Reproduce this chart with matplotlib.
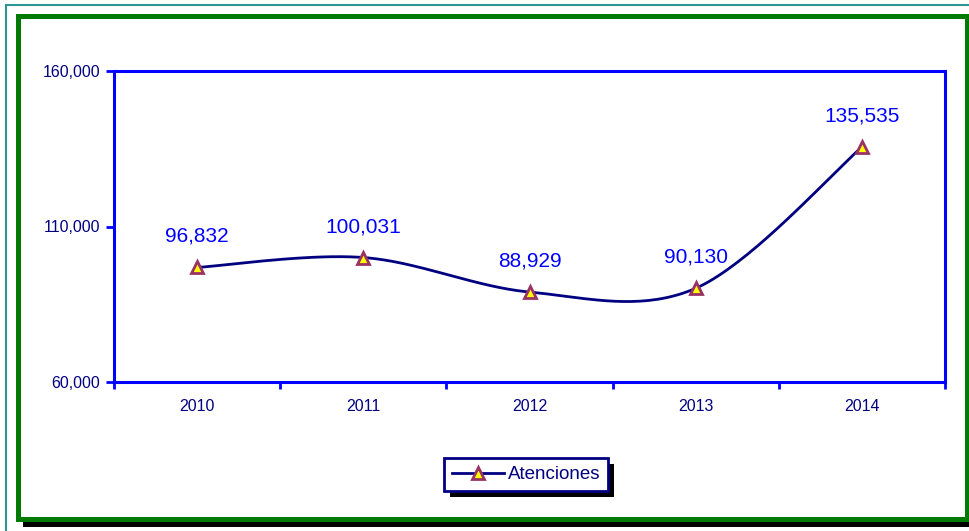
import numpy as np
import matplotlib
matplotlib.use("Agg")
import matplotlib.pyplot as plt
from matplotlib.patches import Rectangle

anios = ["2010", "2011", "2012", "2013", "2014"]
atenciones = [96832, 100031, 88929, 90130, 135535]

plt.rcParams['font.family'] = ['Liberation Sans', 'DejaVu Sans']

W, H = 970, 531
fig = plt.figure(figsize=(W / 100, H / 100), dpi=100)


def px(x0, y0, x1, y1):
    # caja en pixeles (origen arriba a la izquierda) -> coords de figura
    return x0 / W, 1 - y1 / H, (x1 - x0) / W, (y1 - y0) / H


# marcos exteriores (detras de los ejes)
l, b, w, h = px(6, 5, 990, 550)
fig.patches.append(Rectangle((l, b), w, h, transform=fig.transFigure,
                             fill=False, edgecolor='#2E9494', lw=1.5, zorder=-3))
l, b, w, h = px(23, 21, 990, 527)
fig.patches.append(Rectangle((l, b), w, h, transform=fig.transFigure,
                             facecolor='black', edgecolor='none', zorder=-2))
l, b, w, h = px(18, 16, 967, 519)
fig.patches.append(Rectangle((l, b), w, h, transform=fig.transFigure,
                             facecolor='white', edgecolor='#007A00', lw=3.6,
                             zorder=-1))

ax = fig.add_axes(px(114, 71, 945, 382))
ax.set_facecolor('white')

# linea suavizada (bezier tipo Excel)
x = np.arange(len(atenciones), dtype=float)
y = np.array(atenciones, dtype=float)
xs, ys = [], []
n = len(x)
t = np.linspace(0, 1, 40)
for i in range(n - 1):
    xm, ym = (x[i - 1], y[i - 1]) if i > 0 else (x[i], y[i])
    xp, yp = (x[i + 2], y[i + 2]) if i + 2 < n else (x[i + 1], y[i + 1])
    c1x = x[i] + (x[i + 1] - xm) / 6
    c1y = y[i] + (y[i + 1] - ym) / 6
    c2x = x[i + 1] - (xp - x[i]) / 6
    c2y = y[i + 1] - (yp - y[i]) / 6
    bx = (1 - t) ** 3 * x[i] + 3 * (1 - t) ** 2 * t * c1x + 3 * (1 - t) * t ** 2 * c2x + t ** 3 * x[i + 1]
    by = (1 - t) ** 3 * y[i] + 3 * (1 - t) ** 2 * t * c1y + 3 * (1 - t) * t ** 2 * c2y + t ** 3 * y[i + 1]
    xs.extend(bx)
    ys.extend(by)

ax.plot(xs, ys, color='#000080', lw=2, zorder=3)
ax.plot(x, y, linestyle='none', marker='^', markersize=9,
        markerfacecolor='#FFFF00', markeredgecolor='#993366',
        markeredgewidth=2, zorder=4)
# solo para la leyenda
ax.plot([], [], color='#000080', lw=2, marker='^', markersize=9,
        markerfacecolor='#FFFF00', markeredgecolor='#993366',
        markeredgewidth=2, label='Atenciones')

for xi, yi in zip(x, atenciones):
    ax.annotate(f"{yi:,}", (xi, yi), xytext=(0, 31), textcoords='offset pixels',
                ha='center', va='center', color='#0000FF', fontsize=15)

ax.set_xlim(-0.5, len(anios) - 0.5)
ax.set_ylim(60000, 160000)
ax.set_yticks([60000, 110000, 160000])
ax.set_yticklabels([f"{v:,}" for v in [60000, 110000, 160000]])
ax.set_xticks(np.arange(len(anios) + 1) - 0.5)
ax.set_xticklabels([])
ax.set_xticks(x, minor=True)
ax.set_xticklabels(anios, minor=True)

ax.tick_params(axis='y', direction='out', length=6, width=2, color='#0000FF',
               labelcolor='#000080', labelsize=11.5, pad=4)
ax.tick_params(axis='x', which='major', direction='out', length=5, width=2,
               color='#0000FF')
ax.tick_params(axis='x', which='minor', length=0, labelcolor='#000080',
               labelsize=11.5, pad=12)
for s in ax.spines.values():
    s.set_color('#0000FF')
    s.set_linewidth(2.2)

leg = fig.legend(loc='center', bbox_to_anchor=(526 / W, 1 - 474.5 / H),
                 frameon=True, fancybox=False, fontsize=13.5, framealpha=1,
                 facecolor='white', handlelength=2.8, borderpad=0.4,
                 handletextpad=0.2)
leg.get_frame().set_edgecolor('#000080')
leg.get_frame().set_linewidth(2)
for txt in leg.get_texts():
    txt.set_color('#000080')
leg.set_zorder(6)

fig.canvas.draw()
bb = leg.get_window_extent()
fig.patches.append(Rectangle((bb.x0 + 6, bb.y0 - 6), bb.width, bb.height,
                             transform=None, facecolor='black',
                             edgecolor='none', zorder=5))

fig.savefig("out.png", dpi=100)
